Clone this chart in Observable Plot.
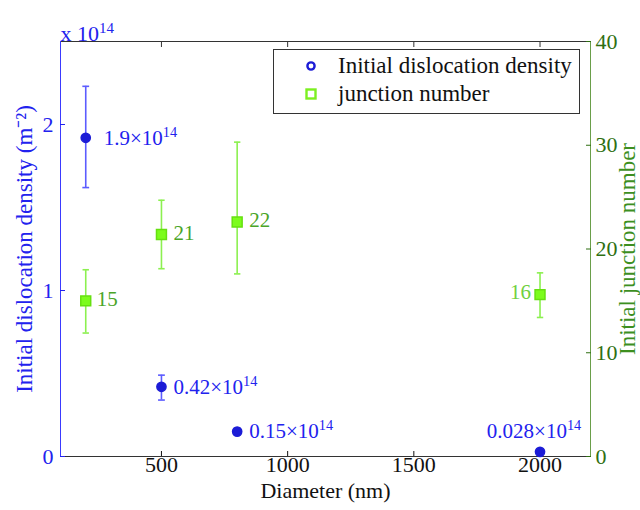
<!DOCTYPE html>
<html><head><meta charset="utf-8">
<script src="https://cdn.jsdelivr.net/npm/d3@7"></script>
<script src="https://cdn.jsdelivr.net/npm/@observablehq/plot@0.6"></script>
<style>
body{margin:0;background:#fff;}
#wrap{position:relative;width:640px;height:510px;font-family:'Liberation Serif','Times New Roman',serif;}
#legend{position:absolute;left:273px;top:49px;width:305px;height:63px;border:1px solid #333;background:#fff;}
.item{position:absolute;left:0;width:305px;height:26px;font-size:23px;color:#111;line-height:26px;}
.item svg{position:absolute;left:30px;top:6px;}
.item span{position:absolute;left:64px;top:0;white-space:nowrap;}
</style></head><body><div id="wrap"><div id="legend">
<div class="item" style="top:3px"><svg width="14" height="14"><circle cx="7" cy="7" r="3.6" fill="none" stroke="#1c1cd6" stroke-width="2.4"/></svg><span>Initial dislocation density</span></div>
<div class="item" style="top:31px"><svg width="14" height="14"><rect x="2.5" y="2.5" width="9" height="9" fill="none" stroke="#7cf020" stroke-width="2.4"/></svg><span>junction number</span></div>
</div></div>
<script>
// ---- data ----
const diameters = [200, 500, 800, 2000];
const densityValue = [1.92, 0.42, 0.15, 0.028];
const densityLow = [1.62, 0.34, 0.13, 0.018];
const densityHigh = [2.23, 0.49, 0.17, 0.038];
const densityLabels = ["1.9×10¹⁴", "0.42×10¹⁴", "0.15×10¹⁴", "0.028×10¹⁴"];
const junctionValue = [15.0, 21.4, 22.6, 15.6];
const junctionLow = [11.9, 18.1, 17.6, 13.4];
const junctionHigh = [18.0, 24.7, 30.3, 17.7];
const junctionLabels = ["15", "21", "22", "16"];
const xTicks = [500, 1000, 1500, 2000];
const xDomain = [100, 2200];
const leftTicks = [0, 1, 2];
const leftDomain = [0, 2.5];
const rightTicks = [0, 10, 20, 30, 40];
const rightMax = 40;

// ---- styling ----
const FONT = "'Liberation Serif', 'Times New Roman', serif";
const BLUE = "#1c1cd6", BLUE_BAR = "#5c5cff", BLUE_TXT = "#2222ee";
const GREEN = "#7cfc1c", GREEN_BAR = "#8cf050", GREEN_TXT = "#4aa528", GREEN_AX = "#2f6f12";
const k = leftDomain[1] / rightMax;
const dens = diameters.map((x, i) => ({x, v: densityValue[i], lo: densityLow[i], hi: densityHigh[i], label: densityLabels[i]}));
const junc = diameters.map((x, i) => ({x, v: junctionValue[i] * k, lo: junctionLow[i] * k, hi: junctionHigh[i] * k, label: junctionLabels[i]}));
const densDx = [18, 12, 12, -6], densDy = [0, 0, 0, -21], densAnchor = ["start", "start", "start", "middle"];
const juncDx = [11, 12, 12, -9], juncDy = [-2, -1, -2, -2], juncAnchor = ["start", "start", "start", "end"];
const cap = {draw(ctx, size) { const r = Math.sqrt(size / Math.PI); ctx.moveTo(-r, 0); ctx.lineTo(r, 0); }};

const chart = Plot.plot({
  width: 640, height: 510,
  marginLeft: 60, marginRight: 50, marginTop: 41, marginBottom: 54,
  style: {fontFamily: FONT, fontSize: "22px", background: "white", overflow: "visible"},
  x: {domain: xDomain, axis: null},
  y: {domain: leftDomain, axis: null},
  marks: [
    Plot.ruleY([leftDomain[0]], {stroke: "#333"}),
    Plot.ruleY([leftDomain[1]], {stroke: "#333"}),
    Plot.ruleX([xDomain[0]], {stroke: "#3a3aff"}),
    Plot.ruleX([xDomain[1]], {stroke: "#6a9e4a"}),
    Plot.axisX(xTicks, {anchor: "bottom", tickSize: -5, tickPadding: 5, tickFormat: d => String(d), color: "#111", fontSize: 22, label: null}),
    Plot.axisX(xTicks, {anchor: "top", tickSize: -5, tickFormat: () => "", color: "#333", label: null}),
    Plot.axisY(leftTicks, {anchor: "left", tickSize: -5, tickPadding: 12, tickFormat: d => String(d), color: BLUE_TXT, fontSize: 22, label: null}),
    Plot.axisY(rightTicks.map(v => v * k), {anchor: "right", tickSize: -5, tickPadding: 10, tickFormat: d => String(Math.round(d / k)), color: GREEN_AX, fontSize: 22, label: null}),
    // junction error bars & markers
    Plot.ruleX(junc, {x: "x", y1: "lo", y2: "hi", stroke: GREEN_BAR, strokeWidth: 1.6}),
    Plot.dot(junc, {x: "x", y: "lo", symbol: cap, r: 3.2, stroke: GREEN_BAR, strokeWidth: 1.6}),
    Plot.dot(junc, {x: "x", y: "hi", symbol: cap, r: 3.2, stroke: GREEN_BAR, strokeWidth: 1.6}),
    Plot.dot(junc, {x: "x", y: "v", symbol: "square", r: 5.6, fill: GREEN, stroke: "#66e010", strokeWidth: 1.5}),
    // density error bars & markers
    Plot.ruleX(dens, {x: "x", y1: "lo", y2: "hi", stroke: BLUE_BAR, strokeWidth: 1.6}),
    Plot.dot(dens, {x: "x", y: "lo", symbol: cap, r: 3.4, stroke: BLUE_BAR, strokeWidth: 1.6}),
    Plot.dot(dens, {x: "x", y: "hi", symbol: cap, r: 3.4, stroke: BLUE_BAR, strokeWidth: 1.6}),
    Plot.dot(dens, {x: "x", y: "v", r: 4.6, fill: BLUE, stroke: BLUE}),
    // value labels
    ...dens.map((d, i) => Plot.text([d], {x: "x", y: "v", text: "label", dx: densDx[i], dy: densDy[i], textAnchor: densAnchor[i], fill: BLUE_TXT, fontSize: 21})),
    ...junc.map((d, i) => Plot.text([d], {x: "x", y: "v", text: "label", dx: juncDx[i], dy: juncDy[i], textAnchor: juncAnchor[i], fill: i === 3 ? "#70d040" : GREEN_TXT, fontSize: 21})),
    // axis titles
    Plot.text(["Diameter (nm)"], {frameAnchor: "bottom", dy: 41, textAnchor: "middle", fill: "#111", fontSize: 22}),
    Plot.text(["Initial dislocation density (m⁻²)"], {frameAnchor: "left", dx: -36, textAnchor: "middle", rotate: -90, fill: BLUE_TXT, fontSize: 23}),
    Plot.text(["Initial junction number"], {frameAnchor: "right", dx: 37, textAnchor: "middle", rotate: -90, fill: "#3d8f1f", fontSize: 23}),
    Plot.text(["x 10¹⁴"], {frameAnchor: "top-left", textAnchor: "start", dy: -16, fill: BLUE_TXT, fontSize: 22})
  ]
});

// render superscripts as raised tspans
const supMap = {"¹": "1", "⁴": "4", "⁻": "-", "²": "2"};
chart.querySelectorAll("text").forEach(t => {
  const s = t.textContent;
  const m = s.match(/^(.*?)([¹⁴⁻²]+)$/);
  if (!m) return;
  while (t.firstChild) t.removeChild(t.firstChild);
  const a = document.createElementNS("http://www.w3.org/2000/svg", "tspan");
  a.textContent = m[1];
  const b = document.createElementNS("http://www.w3.org/2000/svg", "tspan");
  b.textContent = [...m[2]].map(c => supMap[c]).join("");
  b.setAttribute("font-size", "68%");
  b.setAttribute("dy", "-0.55em");
  t.appendChild(a); t.appendChild(b);
});
document.getElementById("wrap").prepend(chart);
</script></body></html>
